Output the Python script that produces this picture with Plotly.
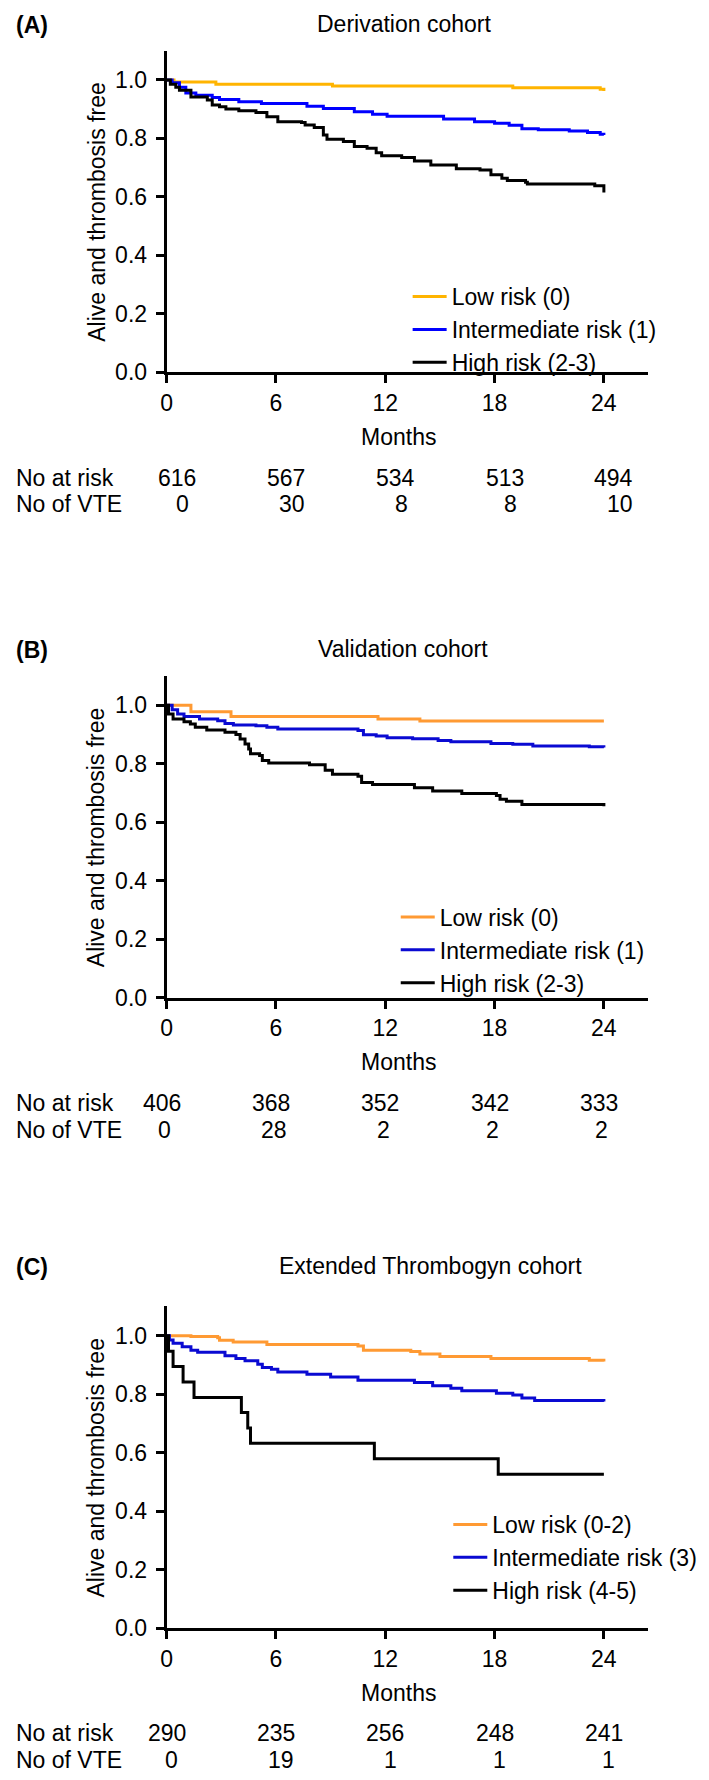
import plotly.graph_objects as go

W, H = 709, 1780
FONT = "Liberation Sans, Arial, Helvetica, sans-serif"
FS = 23

# ---------------- data ----------------
months_ticks = [0, 6, 12, 18, 24]

# Panel A - Derivation cohort
a_low_t = [0, 0.4, 2.7, 9.1, 19.0, 23.8, 24.0]
a_low_s = [1.0, 0.993, 0.985, 0.979, 0.973, 0.968, 0.962]
a_int_t = [0, 0.3, 0.7, 1.05, 1.6, 2.5, 2.9, 3.96, 5.2, 7.7, 8.6, 10.3, 11.3, 12.1,
           15.2, 16.9, 18.0, 18.8, 19.5, 20.4, 22.1, 23.1, 23.8, 24.0]
a_int_s = [1.0, 0.99, 0.975, 0.955, 0.948, 0.940, 0.933, 0.925, 0.919, 0.910, 0.902,
           0.891, 0.883, 0.876, 0.866, 0.857, 0.852, 0.845, 0.833, 0.830, 0.825,
           0.820, 0.814, 0.812]
a_high_t = [0, 0.2, 0.5, 0.7, 1.33, 2.23, 2.5, 2.9, 3.25, 3.96, 4.9, 5.5, 6.1, 7.4,
            7.6, 8.1, 8.6, 8.8, 9.7, 10.3, 11.0, 11.5, 11.8, 12.9, 13.6, 14.5, 15.9,
            17.2, 17.8, 18.4, 18.7, 19.7, 19.8, 23.5, 24.0]
a_high_s = [1.0, 0.985, 0.975, 0.965, 0.942, 0.931, 0.914, 0.908, 0.901, 0.895,
            0.889, 0.874, 0.857, 0.854, 0.846, 0.837, 0.812, 0.797, 0.789, 0.772,
            0.766, 0.751, 0.741, 0.735, 0.723, 0.709, 0.696, 0.692, 0.676, 0.664,
            0.656, 0.650, 0.644, 0.638, 0.615]
a_at_risk = ["616", "567", "534", "513", "494"]
a_vte = ["0", "30", "8", "8", "10"]

# Panel B - Validation cohort
b_low_t = [0, 1.33, 3.53, 11.6, 13.9, 24.0]
b_low_s = [1.0, 0.978, 0.962, 0.953, 0.946, 0.946]
b_int_t = [0, 0.3, 0.6, 0.95, 1.8, 2.8, 3.2, 3.66, 4.9, 5.5, 6.1, 10.5, 10.8, 11.5,
           12.1, 13.5, 14.9, 15.6, 17.8, 19.0, 20.1, 23.2, 24.0]
b_int_s = [1.0, 0.985, 0.970, 0.962, 0.953, 0.947, 0.938, 0.933, 0.930, 0.925,
           0.919, 0.914, 0.899, 0.895, 0.889, 0.886, 0.880, 0.875, 0.869, 0.867,
           0.861, 0.858, 0.856]
b_high_t = [0, 0.1, 0.35, 0.95, 1.3, 1.57, 2.2, 3.2, 3.8, 4.03, 4.3, 4.5, 4.6, 5.1,
            5.25, 5.6, 7.84, 8.7, 9.1, 10.5, 10.7, 11.3, 13.6, 14.6, 16.2, 18.1,
            18.3, 18.65, 19.5, 24.0]
b_high_s = [1.0, 0.970, 0.953, 0.944, 0.936, 0.925, 0.916, 0.908, 0.900, 0.885,
            0.868, 0.851, 0.834, 0.828, 0.811, 0.803, 0.797, 0.778, 0.764, 0.757,
            0.736, 0.729, 0.718, 0.707, 0.698, 0.692, 0.679, 0.672, 0.661, 0.655]
b_at_risk = ["406", "368", "352", "342", "333"]
b_vte = ["0", "28", "2", "2", "2"]

# Panel C - Extended Thrombogyn cohort
c_low_t = [0, 1.33, 2.8, 2.9, 3.65, 5.5, 10.5, 10.8, 13.4, 13.9, 15.0, 17.8, 23.2, 24.0]
c_low_s = [1.0, 0.997, 0.993, 0.984, 0.978, 0.970, 0.965, 0.950, 0.946, 0.937,
           0.929, 0.922, 0.916, 0.912]
c_int_t = [0, 0.15, 0.35, 0.85, 1.33, 1.7, 3.2, 3.8, 4.3, 5.0, 5.25, 5.75, 6.1, 7.7,
           9.0, 10.5, 13.6, 14.6, 15.6, 16.2, 18.1, 19.0, 19.5, 20.2, 24.0]
c_int_s = [1.0, 0.985, 0.974, 0.962, 0.950, 0.943, 0.931, 0.922, 0.914, 0.902,
           0.891, 0.885, 0.876, 0.868, 0.859, 0.848, 0.840, 0.829, 0.820, 0.812,
           0.803, 0.797, 0.787, 0.778, 0.775]
c_high_t = [0, 0.1, 0.35, 0.9, 1.5, 4.1, 4.45, 4.6, 11.4, 18.2, 24.0]
c_high_s = [1.0, 0.947, 0.895, 0.842, 0.789, 0.737, 0.684, 0.632, 0.579, 0.526, 0.526]
c_at_risk = ["290", "235", "256", "248", "241"]
c_vte = ["0", "19", "1", "1", "1"]

titles = ["Derivation cohort", "Validation cohort", "Extended Thrombogyn cohort"]
panel_tags = ["(A)", "(B)", "(C)"]
legend_names = [
    ["Low risk (0)", "Intermediate risk (1)", "High risk (2-3)"],
    ["Low risk (0)", "Intermediate risk (1)", "High risk (2-3)"],
    ["Low risk (0-2)", "Intermediate risk (3)", "High risk (4-5)"],
]

# ---------------- style / layout ----------------
colors = [
    ["#FFB400", "#0000FF", "#000000"],
    ["#FF9A33", "#0A0AD2", "#000000"],
    ["#FF9A33", "#0A0AD2", "#000000"],
]
X0, X1 = 154, 639          # pixel x of plot area
y_tops = [43, 673, 1308]   # pixel y of top of y-axis (value 1.1)
PH = 324                   # plot height in pixels
title_pos = [(393, 16), (392, 646), (420, 1267)]
tag_pos = [17, 647, 1268]
legend_pos = [(397, 269), (385, 894), (438, 1506)]
risk_shift = [(10, 16), (-5, -2), (0, 5)]


def px(x):
    return x / W


def py(y):
    return 1 - y / H


panels = [
    ((a_low_t, a_low_s), (a_int_t, a_int_s), (a_high_t, a_high_s), a_at_risk, a_vte),
    ((b_low_t, b_low_s), (b_int_t, b_int_s), (b_high_t, b_high_s), b_at_risk, b_vte),
    ((c_low_t, c_low_s), (c_int_t, c_int_s), (c_high_t, c_high_s), c_at_risk, c_vte),
]

fig = go.Figure()
annotations = []
layout = {}
txt = dict(family=FONT, size=FS, color="black")

for i, (low, mid, high, at_risk, vte) in enumerate(panels):
    sfx = "" if i == 0 else str(i + 1)
    xa, ya = "x" + sfx, "y" + sfx
    leg = "legend" + sfx
    for (t, s), name, col in zip([low, mid, high], legend_names[i], colors[i]):
        fig.add_trace(go.Scatter(
            x=t, y=s, mode="lines", line=dict(shape="hv", color=col, width=3),
            name=name, xaxis=xa, yaxis=ya, legend=leg,
        ))
    top = y_tops[i]
    bot = top + PH
    common = dict(showline=True, linewidth=3, linecolor="black", ticks="outside",
                  ticklen=8, tickwidth=3, tickcolor="black", showgrid=False,
                  zeroline=False, tickfont=txt)
    layout["xaxis" + sfx] = dict(domain=[px(X0), px(X1)], range=[0, 26.4],
                                 anchor=ya, tickvals=months_ticks, **common)
    layout["yaxis" + sfx] = dict(domain=[py(bot), py(top)], range=[0, 1.1],
                                 anchor=xa, tickvals=[0, 0.2, 0.4, 0.6, 0.8, 1.0],
                                 tickformat=".1f", ticklabelstandoff=4, **common)
    lx, ly = legend_pos[i]
    layout[leg] = dict(x=px(lx), y=py(ly), xanchor="left", yanchor="top",
                       bgcolor="rgba(0,0,0,0)", tracegroupgap=0, itemwidth=34,
                       font=txt)

    tx, ty = title_pos[i]
    annotations.append(dict(text=titles[i], x=px(tx), y=py(ty), xref="paper", yref="paper",
                            xanchor="center", yanchor="middle", showarrow=False, font=txt))
    annotations.append(dict(text="<b>" + panel_tags[i] + "</b>", x=0, y=py(tag_pos[i]),
                            xref="paper", yref="paper", xanchor="left", yanchor="middle",
                            showarrow=False, font=txt))
    annotations.append(dict(text="Alive and thrombosis free", x=px(83),
                            y=py((top + bot) / 2), xref="paper", yref="paper",
                            textangle=-90, xanchor="center", yanchor="middle",
                            showarrow=False, font=txt))
    annotations.append(dict(text="Months", x=px(388), y=py(bot + 65), xref="paper",
                            yref="paper", xanchor="center", yanchor="middle",
                            showarrow=False, font=txt))
    annotations.append(dict(text="No at risk", x=0, y=py(bot + 106), xref="paper",
                            yref="paper", xanchor="left", yanchor="middle",
                            showarrow=False, font=txt))
    annotations.append(dict(text="No of VTE", x=0, y=py(bot + 133), xref="paper",
                            yref="paper", xanchor="left", yanchor="middle",
                            showarrow=False, font=txt))
    rs, vs = risk_shift[i]
    for m, r, v in zip(months_ticks, at_risk, vte):
        annotations.append(dict(text=r, x=m, y=py(bot + 106), xref=xa, yref="paper",
                                xanchor="center", yanchor="middle", xshift=rs,
                                showarrow=False, font=txt))
        annotations.append(dict(text=v, x=m, y=py(bot + 133), xref=xa, yref="paper",
                                xanchor="center", yanchor="middle", xshift=vs,
                                showarrow=False, font=txt))

fig.update_layout(
    width=W, height=H, margin=dict(l=0, r=0, t=0, b=0),
    paper_bgcolor="white", plot_bgcolor="white", showlegend=True,
    annotations=annotations, font=txt,
    **layout,
)

fig.write_html("out.html")
